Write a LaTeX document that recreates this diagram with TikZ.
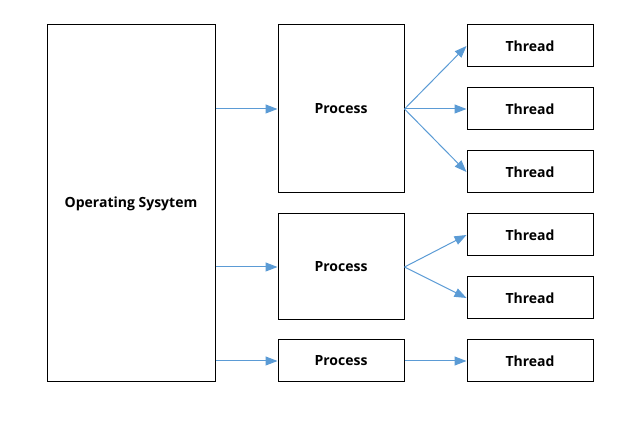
\documentclass[tikz,border=0pt]{standalone}
\usepackage{fontspec}
\setmainfont{Open Sans}
\usetikzlibrary{arrows.meta}
\tikzstyle{box}   = [draw=black, line width=1pt, fill=white, inner sep=0pt, font=\fontsize{14}{16}\selectfont\bfseries]
\tikzstyle{arrow} = [draw={rgb,255:red,91;green,155;blue,213}, line width=1pt, -{Triangle[length=12pt,width=9pt]}]

\begin{document}
\begin{tikzpicture}[x=1pt,y=-1pt]
    \useasboundingbox (0,0) rectangle (640,443);

    \node[box, minimum width=168pt, minimum height=357pt] (os) at (131,203.5) {Operating Sysytem};

    \node[box, minimum width=126pt, minimum height=168pt] (p1) at (341,109) {Process};
    \node[box, minimum width=126pt, minimum height=106pt] (p2) at (341,267) {Process};
    \node[box, minimum width=126pt, minimum height=42pt]  (p3) at (341,361) {Process};

    \node[box, minimum width=126pt, minimum height=42pt] (t1) at (530,46)  {Thread};
    \node[box, minimum width=126pt, minimum height=42pt] (t2) at (530,109) {Thread};
    \node[box, minimum width=126pt, minimum height=42pt] (t3) at (530,172) {Thread};
    \node[box, minimum width=126pt, minimum height=42pt] (t4) at (530,235) {Thread};
    \node[box, minimum width=126pt, minimum height=42pt] (t5) at (530,298) {Thread};
    \node[box, minimum width=126pt, minimum height=42pt] (t6) at (530,361) {Thread};

    \draw[arrow] (os.east |- p1.west) -- (p1.west);
    \draw[arrow] (os.east |- p2.west) -- (p2.west);
    \draw[arrow] (os.east |- p3.west) -- (p3.west);

    \draw[arrow] (p1.east) -- (t1.west);
    \draw[arrow] (p1.east) -- (t2.west);
    \draw[arrow] (p1.east) -- (t3.west);
    \draw[arrow] (p2.east) -- (t4.west);
    \draw[arrow] (p2.east) -- (t5.west);
    \draw[arrow] (p3.east) -- (t6.west);
\end{tikzpicture}
\end{document}
